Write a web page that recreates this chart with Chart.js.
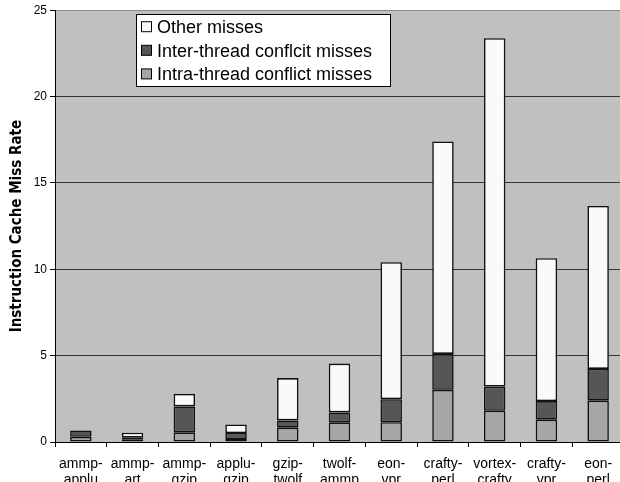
<!DOCTYPE html>
<html>
<head>
<meta charset="utf-8">
<script src="https://cdn.jsdelivr.net/npm/chart.js@4"></script>
<style>
  html, body { margin: 0; padding: 0; background: #fff; overflow: hidden; }
  #wrap { width: 624px; height: 492px; }
</style>
</head>
<body>
<div id="wrap"><canvas id="c" width="624" height="492"></canvas></div>
<script>
// Workload pairs (two-line labels)
const categories = [
  ['ammp-', 'applu'], ['ammp-', 'art'], ['ammp-', 'gzip'], ['applu-', 'gzip'],
  ['gzip-', 'twolf'], ['twolf-', 'ammp'], ['eon-', 'vpr'], ['crafty-', 'perl'],
  ['vortex-', 'crafty'], ['crafty-', 'vpr'], ['eon-', 'perl']
];

// Miss-rate components, stacked bottom to top
const intraMisses = [0.30, 0.13, 0.56, 0.17, 0.83, 1.14, 1.15, 3.02, 1.81, 1.29, 2.39];
const interMisses = [0.37, 0.12, 1.50, 0.35, 0.42, 0.57, 1.33, 2.08, 1.40, 1.08, 1.84];
const otherMisses = [0.00, 0.29, 0.73, 0.50, 2.45, 2.83, 7.93, 12.30, 20.17, 8.27, 9.44];

const seriesNames = ['Intra-thread conflict misses', 'Inter-thread conflcit misses', 'Other misses'];
const yTicks = [0, 5, 10, 15, 20, 25];

const SANS = '"Liberation Sans", Arial, sans-serif';
const CONDENSED = '"DejaVu Sans Condensed", "Liberation Sans", Arial, sans-serif';

// Grey plot background
const plotBackground = {
  id: 'plotBackground',
  beforeDraw(chart) {
    const { ctx, chartArea: a } = chart;
    ctx.save();
    ctx.fillStyle = '#c0c0c0';
    ctx.fillRect(a.left, a.top, a.right - a.left, a.bottom - a.top);
    ctx.restore();
  }
};

// Boxed legend inside the plot, listed top of stack first
const boxedLegend = {
  id: 'boxedLegend',
  afterDraw(chart) {
    const { ctx } = chart;
    const x = 136.5, y = 14.5, w = 254, h = 72;
    ctx.save();
    ctx.fillStyle = '#ffffff';
    ctx.fillRect(x, y, w, h);
    ctx.strokeStyle = '#000';
    ctx.lineWidth = 1;
    ctx.strokeRect(x, y, w, h);
    const items = chart.data.datasets.slice().reverse();
    ctx.font = '18px ' + SANS;
    ctx.textBaseline = 'alphabetic';
    items.forEach((ds, i) => {
      const cy = 26.7 + i * 23.6;
      ctx.fillStyle = ds.backgroundColor;
      ctx.fillRect(141.5, cy - 5, 10, 10);
      ctx.strokeStyle = '#000';
      ctx.strokeRect(141.5, cy - 5, 10, 10);
      ctx.fillStyle = '#000';
      ctx.fillText(ds.label, 157, cy + 6.5);
    });
    ctx.restore();
  }
};

const fills = ['#a6a6a6', '#565656', '#fafafa'];
const values = [intraMisses, interMisses, otherMisses];

new Chart(document.getElementById('c'), {
  type: 'bar',
  data: {
    labels: categories,
    datasets: values.map((v, i) => ({
      label: seriesNames[i],
      data: v,
      backgroundColor: fills[i],
      borderColor: '#111',
      borderWidth: 1.6,
      borderSkipped: false,
      barPercentage: 0.415,
      categoryPercentage: 1.0
    }))
  },
  options: {
    responsive: false,
    animation: false,
    devicePixelRatio: 1,
    layout: { padding: { top: 9, left: 0, right: 0, bottom: 0 } },
    plugins: { legend: { display: false }, tooltip: { enabled: false } },
    scales: {
      x: {
        stacked: true,
        offset: true,
        afterFit(scale) { scale.height = 50; },
        grid: {
          offset: true,
          drawOnChartArea: false,
          drawTicks: true,
          tickLength: 5,
          tickColor: '#000'
        },
        border: { color: '#000', width: 1 },
        ticks: {
          color: '#000',
          padding: 10,
          maxRotation: 0,
          autoSkip: false,
          font: { family: SANS, size: 14, lineHeight: 1.08 }
        }
      },
      y: {
        stacked: true,
        min: 0,
        max: 25,
        afterFit(scale) { scale.width = 55; },
        afterBuildTicks(scale) { scale.ticks = yTicks.map(v => ({ value: v })); },
        grid: {
          color: ctx => ctx.tick && ctx.tick.value === 25 ? '#8a8a8a' : (ctx.tick && ctx.tick.value === 0 ? 'rgba(0,0,0,0)' : '#333'),
          tickColor: '#000',
          tickLength: 5,
          lineWidth: 1
        },
        border: { color: '#000', width: 1 },
        ticks: {
          color: '#000',
          padding: 3,
          font: { family: SANS, size: 12 }
        },
        title: {
          display: true,
          text: 'Instruction Cache Miss Rate',
          color: '#000',
          padding: { top: 8.5, bottom: 0 },
          font: { family: CONDENSED, size: 15, weight: 'bold', lineHeight: 1.2 }
        }
      }
    }
  },
  plugins: [plotBackground, boxedLegend]
});
</script>
</body>
</html>
